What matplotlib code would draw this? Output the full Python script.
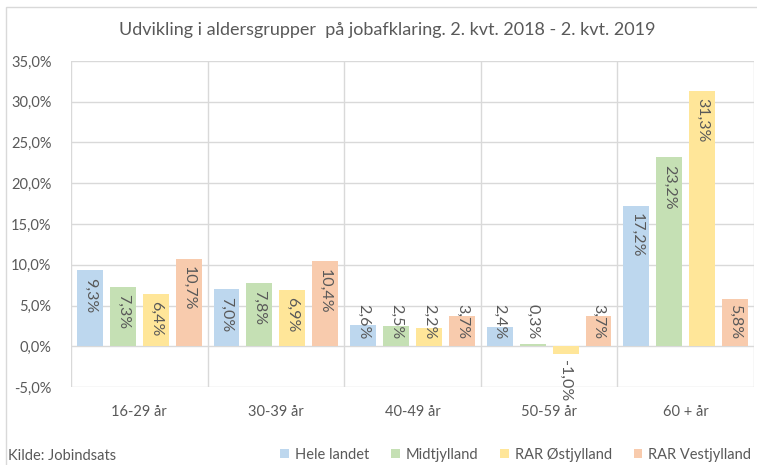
import numpy as np
import matplotlib
matplotlib.use("Agg")
import matplotlib.pyplot as plt
from matplotlib.patches import Rectangle, Patch

plt.rcParams['font.family'] = ['Lato', 'DejaVu Sans']

categories = ["16-29 år", "30-39 år", "40-49 år", "50-59 år", "60 + år"]
series = ["Hele landet", "Midtjylland", "RAR Østjylland", "RAR Vestjylland"]
hele_landet = [9.3, 7.0, 2.6, 2.4, 17.2]
midtjylland = [7.3, 7.8, 2.5, 0.3, 23.2]
rar_ost = [6.4, 6.9, 2.2, -1.0, 31.3]
rar_vest = [10.7, 10.4, 3.7, 3.7, 5.8]
values = [hele_landet, midtjylland, rar_ost, rar_vest]

colors = ["#BDD7EE", "#C5E0B4", "#FFE699", "#F8CBAD"]
txt = "#595959"
grid = "#D9D9D9"

fig = plt.figure(figsize=(7.57, 4.65), dpi=100)
ax = fig.add_axes([71/757, 1-387/465, 683/757, 326/465])

# outer chart border
fig.patches.append(Rectangle((6/757, -0.1), 1.2, 1 - 7/465 + 0.1, transform=fig.transFigure,
                             fill=False, edgecolor=grid, lw=1))

x = np.arange(len(categories)) + 0.5
step = 0.241
width = 0.19
for i, (vals, c) in enumerate(zip(values, colors)):
    pos = x + (i - 1.5) * step
    ax.bar(pos, vals, width=width, color=c, zorder=3)
    for p, v in zip(pos, vals):
        lab = ("%.1f%%" % v).replace(".", ",")
        if v >= 0:
            y = max(v - 0.9, 5.2)
        else:
            y = v - 0.7
        ax.text(p, y, lab, rotation=270, ha="center", va="top",
                fontsize=11.5, color=txt, zorder=4)

ax.set_xlim(0, len(categories))
ax.set_ylim(-5, 35)
ax.set_yticks(np.arange(-5, 36, 5))
ax.set_yticklabels([("%.1f%%" % t).replace(".", ",") for t in np.arange(-5, 36, 5)])
ax.set_xticks(x)
ax.set_xticklabels(categories)
ax.tick_params(length=0, colors=txt, labelsize=10.5)
ax.tick_params(axis="x", pad=13)
ax.tick_params(axis="y", pad=14)

for t in np.arange(-5, 36, 5):
    ax.axhline(t, color=grid, lw=1, zorder=1)
for b in range(len(categories) + 1):
    ax.axvline(b, color=grid, lw=1, zorder=1)
for s in ax.spines.values():
    s.set_visible(False)

fig.text(387/757, 1-30/465, "Udvikling i aldersgrupper  på jobafklaring. 2. kvt. 2018 - 2. kvt. 2019",
         ha="center", va="center", fontsize=13, color=txt)
fig.text(8/757, 1-456/465, "Kilde: Jobindsats", ha="left", va="center", fontsize=10.5, color=txt)

handles = [Patch(facecolor=c, edgecolor="none") for c in colors]
fig.legend(handles, series, loc="center right", bbox_to_anchor=(1.0, 1-455/465), ncol=4,
           frameon=False, fontsize=10.5, handlelength=0.6, handleheight=0.6,
           handletextpad=0.4, columnspacing=1.5, labelcolor=txt, borderaxespad=0)

fig.savefig("out.png", dpi=100)
